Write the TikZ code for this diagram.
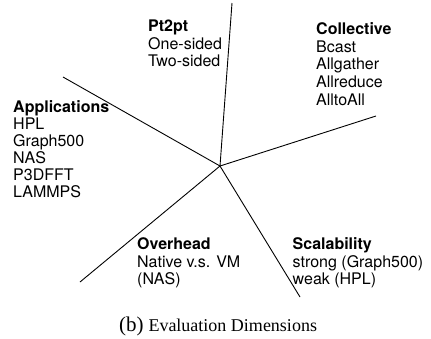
\documentclass[tikz,border=0pt]{standalone}
\usepackage{fontspec}
\setmainfont{TeX Gyre Heros}
\newfontfamily\capfont{Liberation Serif}
\begin{document}
\begin{tikzpicture}[x=1pt,y=1pt,
  axis/.style={line width=0.9pt, black},
  dimtext/.style={anchor=base west, align=left, inner sep=0pt, font=\fontsize{16}{17.5}\selectfont}]
\useasboundingbox (0,0) rectangle (431,-338);
\coordinate (c) at (220,-166);
\coordinate (top) at (232,-3);
\coordinate (ul) at (63,-77);
\coordinate (r) at (376,-116);
\coordinate (ll) at (80,-282);
\coordinate (lr) at (300,-297);
\draw[axis] (c) -- (top);
\draw[axis] (c) -- (ul);
\draw[axis] (c) -- (r);
\draw[axis] (c) -- (ll);
\draw[axis] (c) -- (lr);
\node[dimtext] (pt) at (148,-66.7) {\textbf{Pt2pt}\\One-sided\\Two-sided};
\node[dimtext, font=\fontsize{16}{17.7}\selectfont] (coll) at (316,-105.3) {\textbf{Collective}\\Bcast\\Allgather\\Allreduce\\AlltoAll};
\node[dimtext, font=\fontsize{16}{17}\selectfont] (app) at (13,-197.5) {\textbf{Applications}\\HPL\\Graph500\\NAS\\P3DFFT\\LAMMPS};
\node[dimtext] (ovh) at (137,-284.8) {\textbf{Overhead}\\Native v.s. VM\\(NAS)};
\node[dimtext] (scal) at (292.5,-284.8) {\textbf{Scalability}\\strong (Graph500)\\weak (HPL)};
\node[anchor=base, inner sep=0pt] (cap) at (218,-331.5) {\capfont{\fontsize{21}{21}\selectfont (b)}\hspace{5pt}{\fontsize{18}{18}\selectfont Evaluation Dimensions}};
\end{tikzpicture}
\end{document}
